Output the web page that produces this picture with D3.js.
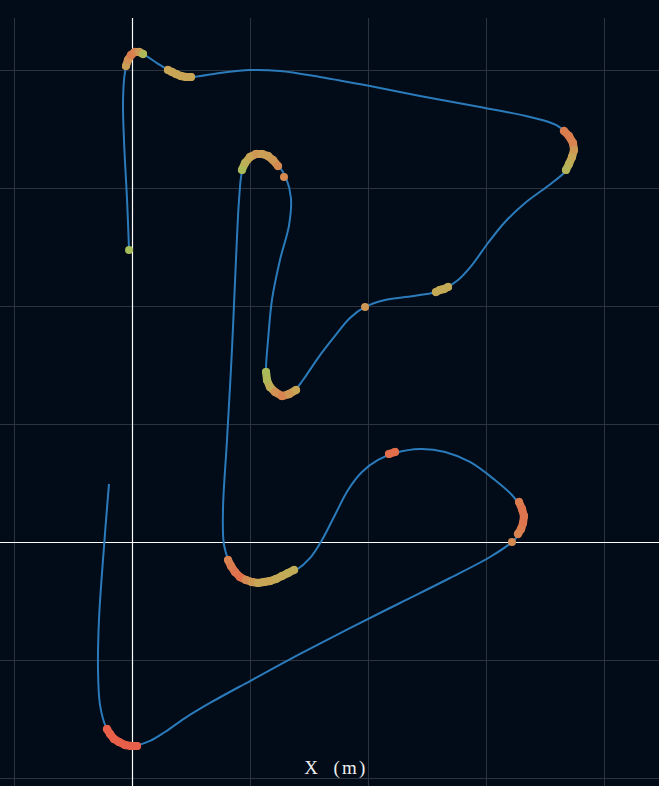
<!DOCTYPE html>
<html>
<head>
<meta charset="utf-8">
<script src="https://cdn.jsdelivr.net/npm/d3@7"></script>
<style>
  html, body { margin: 0; padding: 0; background: #020b18; }
  svg { display: block; }
</style>
</head>
<body>
<svg id="chart" width="659" height="786"></svg>
<script>
// ---- data (metres) ----
const trackX = [-0.25,-0.42,-0.68,-0.76,-0.59,-0.17,0.42,1.10,2.12,3.22,4.24,5.17,7.46,10.0,12.54,15.93,20.17,24.41,29.49,33.73,35.93,36.95,37.54,37.29,36.69,35.25,33.31,31.61,30.17,28.81,27.63,26.61,25.42,23.14,21.44,19.75,18.47,17.20,15.76,14.49,13.81,12.80,11.86,11.44,11.36,11.53,11.86,12.54,13.31,13.47,13.05,12.37,11.53,10.51,9.75,9.32,9.07,8.81,8.47,8.05,7.71,7.80,8.31,9.15,10.17,11.27,12.54,13.81,15.08,16.10,17.20,18.31,19.49,20.85,22.29,24.41,26.53,28.64,30.76,32.20,32.97,33.22,32.88,32.20,30.34,26.95,22.71,18.47,14.24,10.0,6.61,4.49,2.80,1.53,0.51,-0.34,-1.44,-2.20,-2.71,-2.88,-2.80,-2.46,-2.20,-1.95];
const trackY = [24.75,28.98,34.07,37.46,39.83,41.10,41.61,41.27,40.59,39.92,39.49,39.41,39.75,40.0,39.92,39.41,38.64,37.80,36.86,36.02,35.34,34.49,33.22,32.20,31.36,30.17,28.73,27.12,25.34,23.47,22.20,21.53,21.10,20.76,20.51,19.92,18.98,17.46,15.59,13.73,12.88,12.37,12.71,13.73,14.75,17.12,20.51,23.90,26.86,29.15,30.85,31.95,32.80,32.88,32.37,31.36,28.98,23.90,16.27,8.64,2.71,-0.25,-1.78,-2.80,-3.31,-3.39,-3.05,-2.46,-1.36,0.17,2.29,4.41,5.93,6.95,7.54,7.88,7.63,6.78,5.25,3.98,2.88,1.86,0.76,0.0,-1.27,-3.05,-5.17,-7.29,-9.49,-11.78,-13.64,-14.92,-16.10,-16.86,-17.20,-17.20,-16.61,-15.68,-13.81,-10.85,-6.61,-1.53,1.86,4.92];

// highlighted samples: position and a 0..1 intensity (green -> tan -> red)
const markerX = [-0.25,
  -0.51,-0.34,-0.08,0.25,0.59,0.93,
  3.05,3.39,3.73,4.15,4.58,5.0,
  36.61,37.03,37.37,37.46,37.29,37.03,36.78,
  25.76,26.10,26.44,26.78,
  19.75,
  11.36,11.44,11.69,12.12,12.71,13.31,13.90,
  9.32,9.58,10.0,10.51,11.02,11.53,11.95,12.37,12.88,
  8.14,8.39,8.73,9.15,9.66,10.17,10.68,11.19,11.69,12.20,12.71,13.22,13.73,
  21.78,22.29,
  32.80,33.05,33.22,33.14,32.97,32.71,32.20,
  -2.12,-1.86,-1.53,-1.10,-0.59,-0.08,0.42];
const markerY = [24.75,
  40.34,40.85,41.27,41.53,41.53,41.36,
  40.0,39.83,39.66,39.49,39.41,39.41,
  34.83,34.41,33.81,33.22,32.63,32.03,31.53,
  21.19,21.36,21.44,21.61,
  19.92,
  14.41,13.73,13.14,12.71,12.37,12.54,12.88,
  31.53,32.12,32.63,32.88,32.88,32.71,32.37,31.86,30.93,
  -1.53,-2.03,-2.54,-2.97,-3.22,-3.39,-3.47,-3.39,-3.31,-3.14,-2.88,-2.63,-2.37,
  7.46,7.63,
  3.39,2.80,2.20,1.61,1.10,0.68,0.0,
  -15.85,-16.27,-16.69,-16.95,-17.20,-17.29,-17.29];
const markerValue = [0.1,
  0.55,0.65,0.8,0.75,0.6,0.2,
  0.5,0.5,0.5,0.5,0.5,0.5,
  0.8,0.8,0.75,0.6,0.5,0.35,0.25,
  0.45,0.45,0.45,0.45,
  0.6,
  0.15,0.2,0.4,0.65,0.75,0.6,0.5,
  0.15,0.35,0.5,0.6,0.55,0.55,0.6,0.7,0.7,
  0.75,0.8,0.85,0.9,0.7,0.6,0.5,0.5,0.5,0.45,0.45,0.4,0.4,
  0.9,0.9,
  0.8,0.85,0.85,0.85,0.8,0.75,0.7,
  1,1,1,1,1,1,1];

const xTicks = [-10, 0, 10, 20, 30, 40];
const yTicks = [-20, -10, 0, 10, 20, 30, 40];
const xLabel = "X (m)";

// ---- drawing ----
const W = 659, H = 786, plotTop = 18;
const svg = d3.select("#chart");
const x = d3.scaleLinear().domain([-132/11.8, (W-132)/11.8]).range([0, W]);
const y = d3.scaleLinear().domain([(542-H)/11.8, (542-plotTop)/11.8]).range([H, plotTop]);

const grid = svg.append("g").attr("stroke", "#2c333d").attr("stroke-width", 1);
grid.selectAll("line.v").data(xTicks.filter(d => d !== 0)).join("line")
  .attr("x1", d => Math.round(x(d)) + 0.5).attr("x2", d => Math.round(x(d)) + 0.5)
  .attr("y1", plotTop).attr("y2", H);
grid.selectAll("line.h").data(yTicks.filter(d => d !== 0)).join("line")
  .attr("y1", d => Math.round(y(d)) + 0.5).attr("y2", d => Math.round(y(d)) + 0.5)
  .attr("x1", 0).attr("x2", W);

// zero axes
svg.append("line").attr("x1", 0).attr("x2", W)
  .attr("y1", Math.round(y(0)) + 0.5).attr("y2", Math.round(y(0)) + 0.5)
  .attr("stroke", "#ffffff").attr("stroke-width", 1.2);
svg.append("line").attr("y1", plotTop).attr("y2", H)
  .attr("x1", Math.round(x(0)) + 0.5).attr("x2", Math.round(x(0)) + 0.5)
  .attr("stroke", "#ffffff").attr("stroke-width", 1.2);

const pts = trackX.map((d, i) => [d, trackY[i]]);
const line = d3.line().x(d => x(d[0])).y(d => y(d[1])).curve(d3.curveCatmullRom.alpha(0.5));
svg.append("path").datum(pts).attr("d", line)
  .attr("fill", "none").attr("stroke", "#2b7bbb").attr("stroke-width", 2);

const color = d3.scaleLinear().domain([0, 0.5, 1]).range(["#9ec35a", "#c8a656", "#e8604a"]);
const markers = markerX.map((d, i) => ({x: d, y: markerY[i], v: markerValue[i]}));

// join neighbouring samples into thick runs
const segs = [];
for (let i = 1; i < markers.length; i++) {
  const a = markers[i - 1], b = markers[i];
  const dpx = Math.hypot(x(a.x) - x(b.x), y(a.y) - y(b.y));
  if (dpx < 9.5) segs.push({a, b});
}
const mg = svg.append("g");
mg.selectAll("line").data(segs).join("line")
  .attr("x1", d => x(d.a.x)).attr("y1", d => y(d.a.y))
  .attr("x2", d => x(d.b.x)).attr("y2", d => y(d.b.y))
  .attr("stroke", d => color((d.a.v + d.b.v) / 2))
  .attr("stroke-width", 8).attr("stroke-linecap", "round");
mg.selectAll("circle").data(markers).join("circle")
  .attr("cx", d => x(d.x)).attr("cy", d => y(d.y)).attr("r", 4)
  .attr("fill", d => color(d.v));

// label: characters placed on a fixed-pitch grid
const pitch = 12.8, labelStart = 304.6;
svg.append("text")
  .attr("x", Array.from(xLabel, (c, i) => labelStart + (i + 0.5) * pitch).join(" "))
  .attr("y", 774)
  .attr("text-anchor", "middle").attr("fill", "#eeeeee")
  .attr("font-family", "'Liberation Serif', 'DejaVu Serif', serif").attr("font-size", 19)
  .text(xLabel);
</script>
</body>
</html>
